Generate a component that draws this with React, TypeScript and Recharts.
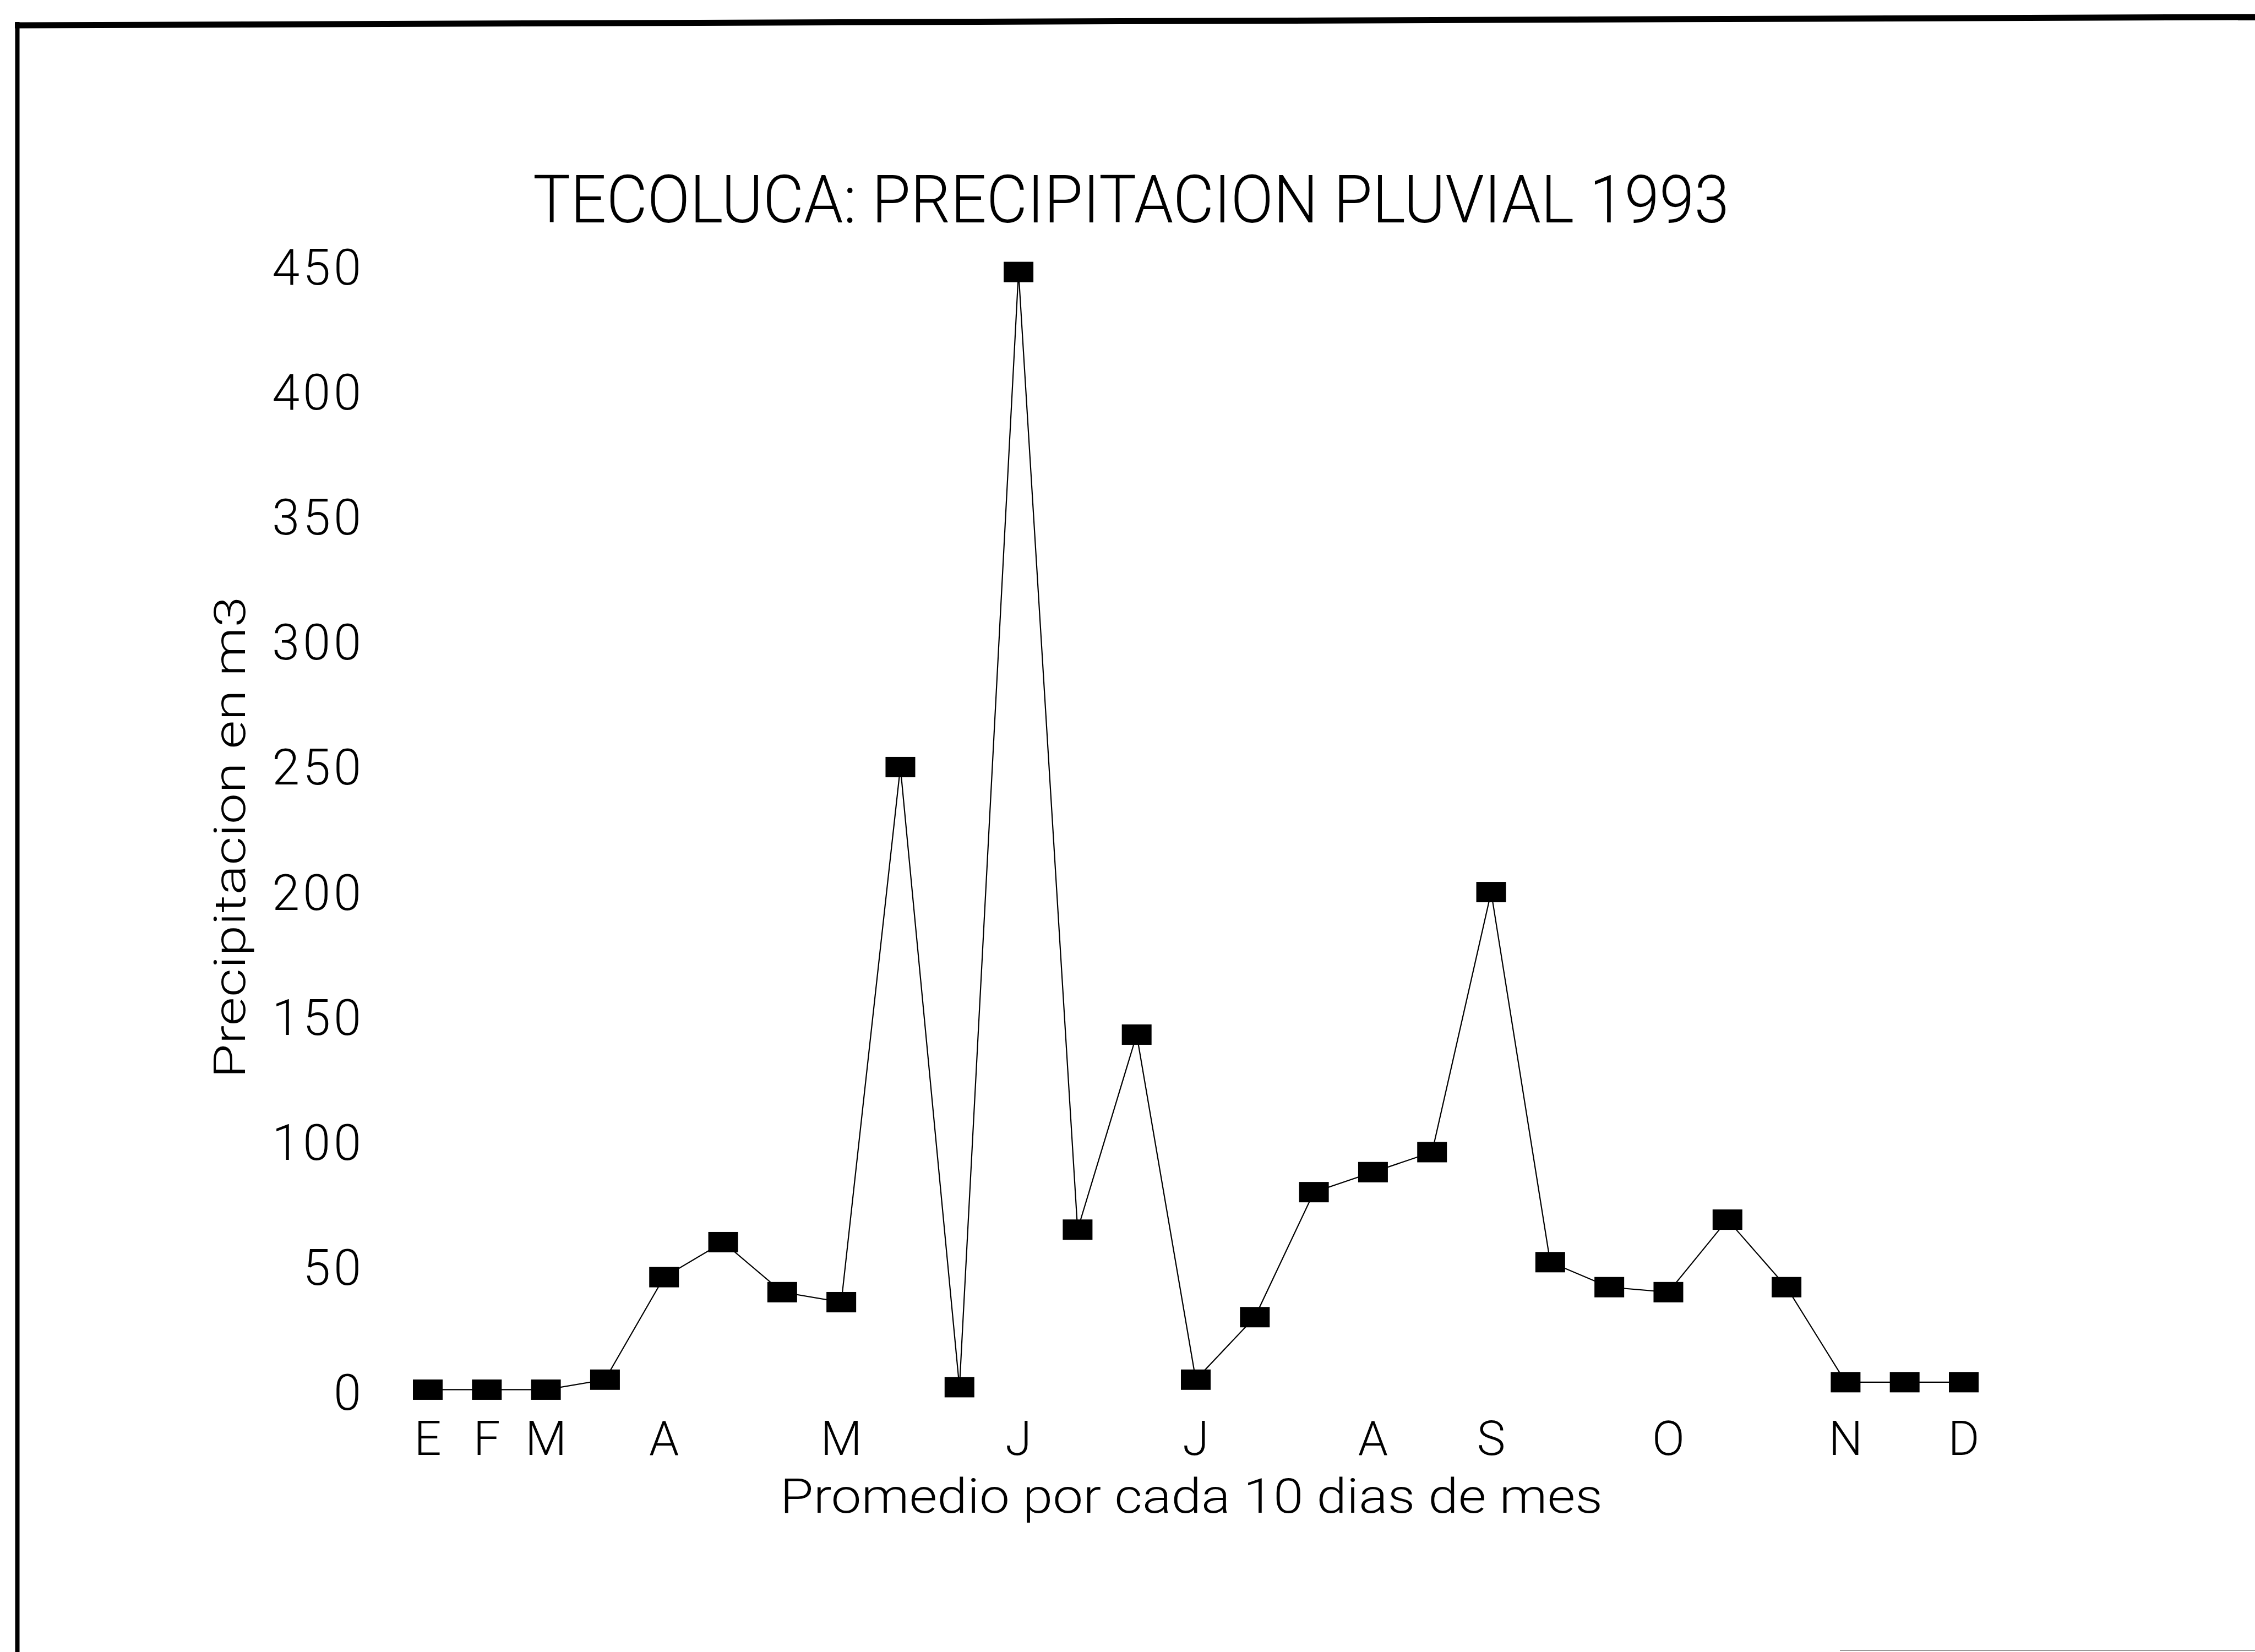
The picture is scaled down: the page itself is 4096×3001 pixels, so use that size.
import React from 'react';
import { LineChart, Line, XAxis, YAxis, Customized } from 'recharts';

// ---- data ----
const categories = [
  'p01', 'p02', 'p03', 'p04', 'p05', 'p06', 'p07', 'p08', 'p09',
  'p10', 'p11', 'p12', 'p13', 'p14', 'p15', 'p16', 'p17', 'p18',
  'p19', 'p20', 'p21', 'p22', 'p23', 'p24', 'p25', 'p26', 'p27',
];
const precipitation = [
  1, 1, 1, 5, 46, 60, 40, 36, 250,
  2, 448, 65, 143, 5, 30, 80, 88, 96,
  200, 52, 42, 40, 69, 42, 4, 4, 4,
];
const monthTicks = [
  'E', 'F', 'M', '', 'A', '', '', 'M', '',
  '', 'J', '', '', 'J', '', '', 'A', '',
  'S', '', '', 'O', '', '', 'N', '', 'D',
];
const yTicks = [0, 50, 100, 150, 200, 250, 300, 350, 400, 450];

const title = 'TECOLUCA: PRECIPITACION PLUVIAL 1993';
const xTitle = 'Promedio por cada 10 dias de mes';
const yTitle = 'Precipitacion en m3';

const data = categories.map((c, i) => ({ cat: c, value: precipitation[i], month: monthTicks[i] }));

// ---- styles ----
const W = 4096;
const H = 3001;
const FONT = 'Roboto, "DejaVu Sans", sans-serif';

const YTick = (props: any) => {
  const { x, y, payload } = props;
  const s = String(payload.value);
  return (
    <text
      x={x}
      y={y + 32}
      textAnchor="end"
      fontFamily={FONT}
      fontWeight={300}
      fontSize={90}
      fill="#000"
      letterSpacing={6}
    >
      {s}
    </text>
  );
};

const XTick = (props: any) => {
  const { x, y, index } = props;
  const label = monthTicks[index] ?? '';
  if (!label) return null;
  return (
    <text
      x={x}
      y={y + 62}
      textAnchor="middle"
      fontFamily={FONT}
      fontWeight={300}
      fontSize={87}
      fill="#000"
    >
      {label}
    </text>
  );
};

const Marker = (props: any) => {
  const { cx, cy, index } = props;
  if (cx == null || cy == null) return null;
  return <rect key={`m${index}`} x={cx - 27} y={cy - 18.5} width={54} height={37} fill="#000" />;
};

const Decorations = () => (
  <g>
    {/* frame */}
    <line x1={31.5} y1={40} x2={31.5} y2={H} stroke="#000" strokeWidth={8} />
    <line x1={27} y1={46} x2={W} y2={31} stroke="#000" strokeWidth={11} />
    <line x1={3342} y1={2998} x2={W} y2={2998} stroke="#999" strokeWidth={2} />
    {/* title */}
    <text
      x={968}
      y={404}
      fontFamily={FONT}
      fontWeight={300}
      fontSize={120}
      fill="#000"
      textLength={2173}
      lengthAdjust="spacingAndGlyphs"
    >
      {title}
    </text>
    {/* x axis title */}
    <text
      x={1417}
      y={2748}
      fontFamily={FONT}
      fontWeight={300}
      fontSize={87}
      fill="#000"
      textLength={1494}
      lengthAdjust="spacingAndGlyphs"
    >
      {xTitle}
    </text>
    {/* y axis title */}
    <text
      x={0}
      y={0}
      transform="translate(445,1521) rotate(-90)"
      textAnchor="middle"
      fontFamily={FONT}
      fontWeight={300}
      fontSize={80}
      fill="#000"
      textLength={875}
      lengthAdjust="spacingAndGlyphs"
    >
      {yTitle}
    </text>
  </g>
);

export default function App() {
  return (
    <div style={{ position: 'absolute', left: 0, top: 0, width: W, height: H, background: '#fff', overflow: 'hidden' }}>
      <LineChart
        width={W}
        height={H}
        data={data}
        margin={{ top: 485, right: 529, bottom: 372, left: 627 }}
      >
        <XAxis
          dataKey="cat"
          axisLine={false}
          tickLine={false}
          tickSize={0}
          tickMargin={52}
          height={100}
          interval={0}
          tick={<XTick />}
        />
        <YAxis
          domain={[0, 450]}
          ticks={yTicks}
          axisLine={false}
          tickLine={false}
          tickSize={0}
          tickMargin={115}
          width={150}
          interval={0}
          tick={<YTick />}
        />
        <Line
          type="linear"
          dataKey="value"
          stroke="#000"
          strokeWidth={2.2}
          dot={<Marker />}
          activeDot={false}
          isAnimationActive={false}
        />
        <Customized component={<Decorations />} />
      </LineChart>
    </div>
  );
}
